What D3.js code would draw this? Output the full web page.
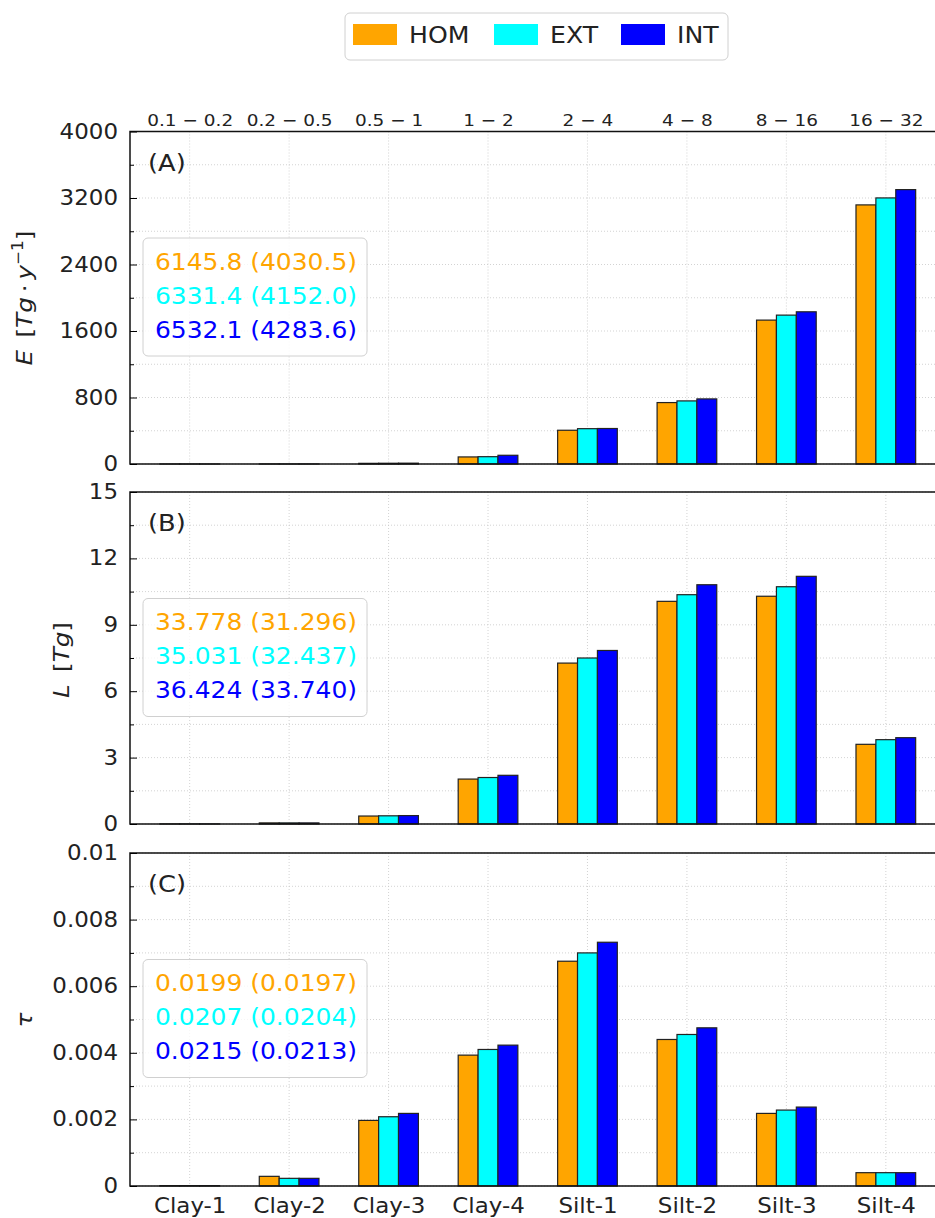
<!DOCTYPE html>
<html>
<head>
<meta charset="utf-8">
<script src="https://cdn.jsdelivr.net/npm/d3@7"></script>
<style>
  body { margin: 0; background: #fff; }
  svg { display: block; font-family: "DejaVu Sans", sans-serif; }
</style>
</head>
<body>
<script>
let width = 935;
let height = 1218;

// categories and size bins (um)
const categories = ["Clay-1", "Clay-2", "Clay-3", "Clay-4", "Silt-1", "Silt-2", "Silt-3", "Silt-4"];
const sizeBins = ["0.1 \u2212 0.2", "0.2 \u2212 0.5", "0.5 \u2212 1", "1 \u2212 2", "2 \u2212 4", "4 \u2212 8", "8 \u2212 16", "16 \u2212 32"];
const seriesNames = ["HOM", "EXT", "INT"];
const colors = ["#ffa500", "#00ffff", "#0000ff"];

// (A) emission E [Tg/y]
const emisHOM = [0.1, 0.5, 8, 85, 406, 739, 1731, 3117];
const emisEXT = [0.1, 0.5, 9, 88, 425, 759, 1791, 3201];
const emisINT = [0.1, 0.5, 10, 105, 427, 783, 1831, 3301];
const emisTotals = ["6145.8 (4030.5)", "6331.4 (4152.0)", "6532.1 (4283.6)"];

// (B) load L [Tg]
const loadHOM = [0.003, 0.05, 0.36, 2.03, 7.27, 10.06, 10.29, 3.6];
const loadEXT = [0.003, 0.05, 0.37, 2.1, 7.5, 10.36, 10.72, 3.81];
const loadINT = [0.003, 0.05, 0.38, 2.2, 7.84, 10.81, 11.19, 3.9];
const loadTotals = ["33.778 (31.296)", "35.031 (32.437)", "36.424 (33.740)"];

// (C) optical depth tau
const tauHOM = [0.00001, 0.00029, 0.00197, 0.00393, 0.00675, 0.0044, 0.00218, 0.0004];
const tauEXT = [0.00001, 0.00023, 0.00208, 0.0041, 0.0070, 0.00455, 0.00228, 0.0004];
const tauINT = [0.00001, 0.00023, 0.00218, 0.00423, 0.00732, 0.00475, 0.00237, 0.0004];
const tauTotals = ["0.0199 (0.0197)", "0.0207 (0.0204)", "0.0215 (0.0213)"];

const panels = [
  { tag: "(A)", series: [emisHOM, emisEXT, emisINT], totals: emisTotals,
    domain: [0, 4000], major: [0, 800, 1600, 2400, 3200, 4000], minor: [400, 1200, 2000, 2800, 3600],
    top: 131.5, bottom: 464, fmt: d => d },
  { tag: "(B)", series: [loadHOM, loadEXT, loadINT], totals: loadTotals,
    domain: [0, 15], major: [0, 3, 6, 9, 12, 15], minor: [1.5, 4.5, 7.5, 10.5, 13.5],
    top: 492, bottom: 824, fmt: d => d },
  { tag: "(C)", series: [tauHOM, tauEXT, tauINT], totals: tauTotals,
    domain: [0, 0.01], major: [0, 0.002, 0.004, 0.006, 0.008, 0.01], minor: [0.001, 0.003, 0.005, 0.007, 0.009],
    top: 853, bottom: 1186, fmt: d => d === 0 ? "0" : String(+d.toFixed(3)) }
];

// the original figure's text is a bit wider than plain DejaVu
const SX = 1.12;
function stretch(sel) {
  sel.each(function() {
    const t = d3.select(this);
    const x0 = +(t.attr("x") || 0);
    t.attr("x", x0 / SX).attr("transform", `scale(${SX},1)`);
  });
}

const svg = d3.select("body").append("svg")
  .attr("width", width)
  .attr("height", height);

const plotLeft = 130;
const plotRight = 946;
const x = d3.scaleLinear().domain([-0.6, 7.6]).range([plotLeft, 945.5]);
const barW = x(0.2) - x(0);

panels.forEach((p, pi) => {
  const y = d3.scaleLinear().domain(p.domain).range([p.bottom, p.top]);
  const g = svg.append("g");

  // grid lines (dotted)
  const grid = g.append("g").attr("stroke", "#c8c8c8").attr("stroke-width", 0.8).attr("stroke-dasharray", "1,2");
  p.major.concat(p.minor).forEach(v => {
    grid.append("line").attr("x1", plotLeft).attr("x2", plotRight).attr("y1", y(v)).attr("y2", y(v));
  });
  categories.forEach((c, i) => {
    grid.append("line").attr("x1", x(i)).attr("x2", x(i)).attr("y1", p.top).attr("y2", p.bottom);
  });

  // bars
  p.series.forEach((vals, si) => {
    g.selectAll(".bar" + si).data(vals).enter().append("rect")
      .attr("x", (d, i) => x(i + (si - 1) * 0.2) - barW / 2)
      .attr("y", d => y(d))
      .attr("width", barW)
      .attr("height", d => y(0) - y(d))
      .attr("fill", colors[si])
      .attr("stroke", "#222")
      .attr("stroke-width", 1.2);
  });

  // frame
  g.append("rect").attr("x", plotLeft).attr("y", p.top)
    .attr("width", plotRight - plotLeft).attr("height", p.bottom - p.top)
    .attr("fill", "none").attr("stroke", "#111").attr("stroke-width", 1.5);

  // y axis, inward ticks
  const axisY = d3.axisLeft(y).tickValues(p.major).tickSize(-7).tickPadding(12).tickFormat(p.fmt);
  const ay = g.append("g").attr("transform", `translate(${plotLeft},0)`).call(axisY);
  ay.select(".domain").remove();
  ay.selectAll("text").attr("font-size", 20.5).attr("fill", "#222").attr("font-family", "DejaVu Sans").call(stretch);
  const minorY = d3.axisLeft(y).tickValues(p.minor).tickSize(-4).tickFormat("");
  const amy = g.append("g").attr("transform", `translate(${plotLeft},0)`).call(minorY);
  amy.select(".domain").remove();

  // panel tag
  g.append("text").attr("x", 148).attr("y", p.top + 39.5)
    .attr("font-size", 23).attr("fill", "#222").text(p.tag).call(stretch);

  // totals box
  const bx = 143, by = p.top + 106.5;
  g.append("rect").attr("x", bx).attr("y", by).attr("width", 224).attr("height", 118)
    .attr("rx", 5).attr("fill", "#fff").attr("fill-opacity", 0.8)
    .attr("stroke", "#d0d0d0").attr("stroke-width", 1);
  p.totals.forEach((t, si) => {
    g.append("text").attr("x", bx + 12).attr("y", by + 32 + si * 34)
      .attr("font-size", 22.3).attr("fill", colors[si]).text(t).call(stretch);
  });

  // category labels on the bottom panel
  if (pi === 2) {
    const axisX = d3.axisBottom(x).tickValues(d3.range(categories.length)).tickSize(0).tickPadding(12)
      .tickFormat(i => categories[i]);
    const ax = g.append("g").attr("transform", `translate(0,${p.bottom})`).call(axisX);
    ax.select(".domain").remove();
    ax.selectAll("text").attr("font-size", 20.5).attr("fill", "#222").attr("font-family", "DejaVu Sans").call(stretch);
  }
  // size bins on top of the first panel
  if (pi === 0) {
    const axisT = d3.axisTop(x).tickValues(d3.range(sizeBins.length)).tickSize(0).tickPadding(5.5)
      .tickFormat(i => sizeBins[i]);
    const at = g.append("g").attr("transform", `translate(0,${p.top})`).call(axisT);
    at.select(".domain").remove();
    at.selectAll("text").attr("font-size", 16.5).attr("fill", "#222").attr("font-family", "DejaVu Sans").call(stretch);
  }
});

// y axis labels
const labE = svg.append("text").attr("transform", `translate(32,298) rotate(-90) scale(${SX},1)`)
  .attr("text-anchor", "middle").attr("font-size", 22).attr("fill", "#222");
labE.append("tspan").attr("font-style", "italic").text("E");
labE.append("tspan").text("\u2002[");
labE.append("tspan").attr("font-style", "italic").text("Tg");
labE.append("tspan").text("\u2009\u00b7\u2009");
labE.append("tspan").attr("font-style", "italic").text("y");
labE.append("tspan").attr("font-size", 15).attr("dy", -9).text("\u22121");
labE.append("tspan").attr("dy", 9).text("]");

const labL = svg.append("text").attr("transform", `translate(69,660) rotate(-90) scale(${SX},1)`)
  .attr("text-anchor", "middle").attr("font-size", 22).attr("fill", "#222");
labL.append("tspan").attr("font-style", "italic").text("L");
labL.append("tspan").text("\u2002[");
labL.append("tspan").attr("font-style", "italic").text("Tg");
labL.append("tspan").text("]");

svg.append("text").attr("transform", `translate(32,1020) rotate(-90) scale(${SX},1)`)
  .attr("text-anchor", "middle").attr("font-size", 22).attr("font-style", "italic").attr("fill", "#222")
  .text("\u03c4");

// top legend
const leg = svg.append("g");
leg.append("rect").attr("x", 345).attr("y", 13).attr("width", 383).attr("height", 47)
  .attr("rx", 5).attr("fill", "#fff").attr("stroke", "#d0d0d0").attr("stroke-width", 1);
const legX = [353, 494, 621];
seriesNames.forEach((s, si) => {
  leg.append("rect").attr("x", legX[si]).attr("y", 24).attr("width", 44).attr("height", 21)
    .attr("fill", colors[si]);
  leg.append("text").attr("x", legX[si] + 56).attr("y", 43.5)
    .attr("font-size", 22.5).attr("fill", "#222").text(s).call(stretch);
});
</script>
</body>
</html>
